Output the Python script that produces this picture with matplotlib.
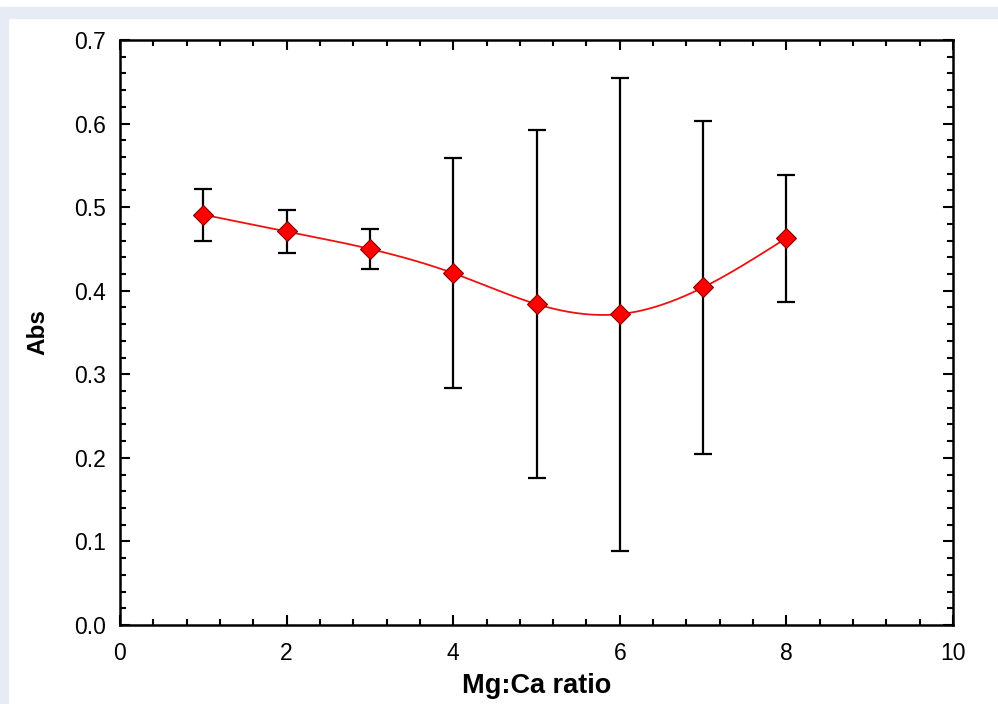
import matplotlib
matplotlib.use("Agg")
import matplotlib.pyplot as plt
import numpy as np
from matplotlib.patches import Rectangle
from matplotlib.ticker import MultipleLocator, FormatStrFormatter

ratio = np.array([1, 2, 3, 4, 5, 6, 7, 8])
absorb = np.array([0.491, 0.471, 0.450, 0.421, 0.384, 0.372, 0.404, 0.463])
err = np.array([0.031, 0.026, 0.024, 0.138, 0.208, 0.283, 0.199, 0.076])


def natural_spline(x, y, xs):
    # plain natural cubic spline, just to draw the smooth connecting line
    n = len(x)
    h = np.diff(x)
    A = np.zeros((n, n))
    b = np.zeros(n)
    A[0, 0] = A[-1, -1] = 1
    for i in range(1, n - 1):
        A[i, i - 1] = h[i - 1]
        A[i, i] = 2 * (h[i - 1] + h[i])
        A[i, i + 1] = h[i]
        b[i] = 6 * ((y[i + 1] - y[i]) / h[i] - (y[i] - y[i - 1]) / h[i - 1])
    M = np.linalg.solve(A, b)
    idx = np.clip(np.searchsorted(x, xs) - 1, 0, n - 2)
    x0, x1 = x[idx], x[idx + 1]
    hi = x1 - x0
    t0, t1 = x1 - xs, xs - x0
    return (M[idx] * t0**3 / (6 * hi) + M[idx + 1] * t1**3 / (6 * hi)
            + (y[idx] / hi - M[idx] * hi / 6) * t0
            + (y[idx + 1] / hi - M[idx + 1] * hi / 6) * t1)


plt.rcParams["font.family"] = ["Liberation Sans", "DejaVu Sans"]

fig = plt.figure(figsize=(9.98, 7.04), dpi=100)
# light blue frame strips of the page
fig.patches.append(Rectangle((0, 1 - 18 / 704), 1, 11 / 704, transform=fig.transFigure,
                             color="#e6ebf5", zorder=-1))
fig.patches.append(Rectangle((0, 0), 8 / 998, 1 - 7 / 704, transform=fig.transFigure,
                             color="#e6ebf5", zorder=-1))

ax = fig.add_axes([120 / 998, 1 - 625 / 704, (953 - 120) / 998, (625 - 40) / 704])

xs = np.linspace(ratio[0], ratio[-1], 300)
ax.plot(xs, natural_spline(ratio.astype(float), absorb, xs), color="#ee1111", lw=1.3, zorder=2)
ax.errorbar(ratio, absorb, yerr=err, fmt="none", ecolor="black", elinewidth=1.6,
            capsize=6.5, capthick=1.6, zorder=3)
ax.plot(ratio, absorb, "D", color="red", markeredgecolor="#8b0000", markeredgewidth=0.8,
        markersize=10, zorder=4)

ax.set_xlim(0, 10)
ax.set_ylim(0, 0.7)
ax.xaxis.set_major_locator(MultipleLocator(2))
ax.xaxis.set_minor_locator(MultipleLocator(0.4))
ax.yaxis.set_major_locator(MultipleLocator(0.1))
ax.yaxis.set_minor_locator(MultipleLocator(0.02))
ax.yaxis.set_major_formatter(FormatStrFormatter("%.1f"))
ax.tick_params(which="both", direction="in", top=True, right=True, width=1.5, labelsize=16.5, colors="black")
ax.tick_params(which="major", length=7)
ax.tick_params(axis="x", which="major", pad=12)
ax.tick_params(axis="y", which="major", pad=10)
ax.tick_params(which="minor", length=4)
for s in ax.spines.values():
    s.set_linewidth(1.8)

ax.set_xlabel("Mg:Ca ratio", fontsize=19.5, fontweight="bold", labelpad=6)
ax.set_ylabel("Abs", fontsize=17.5, fontweight="bold", labelpad=18)

fig.savefig("out.png", dpi=100)
